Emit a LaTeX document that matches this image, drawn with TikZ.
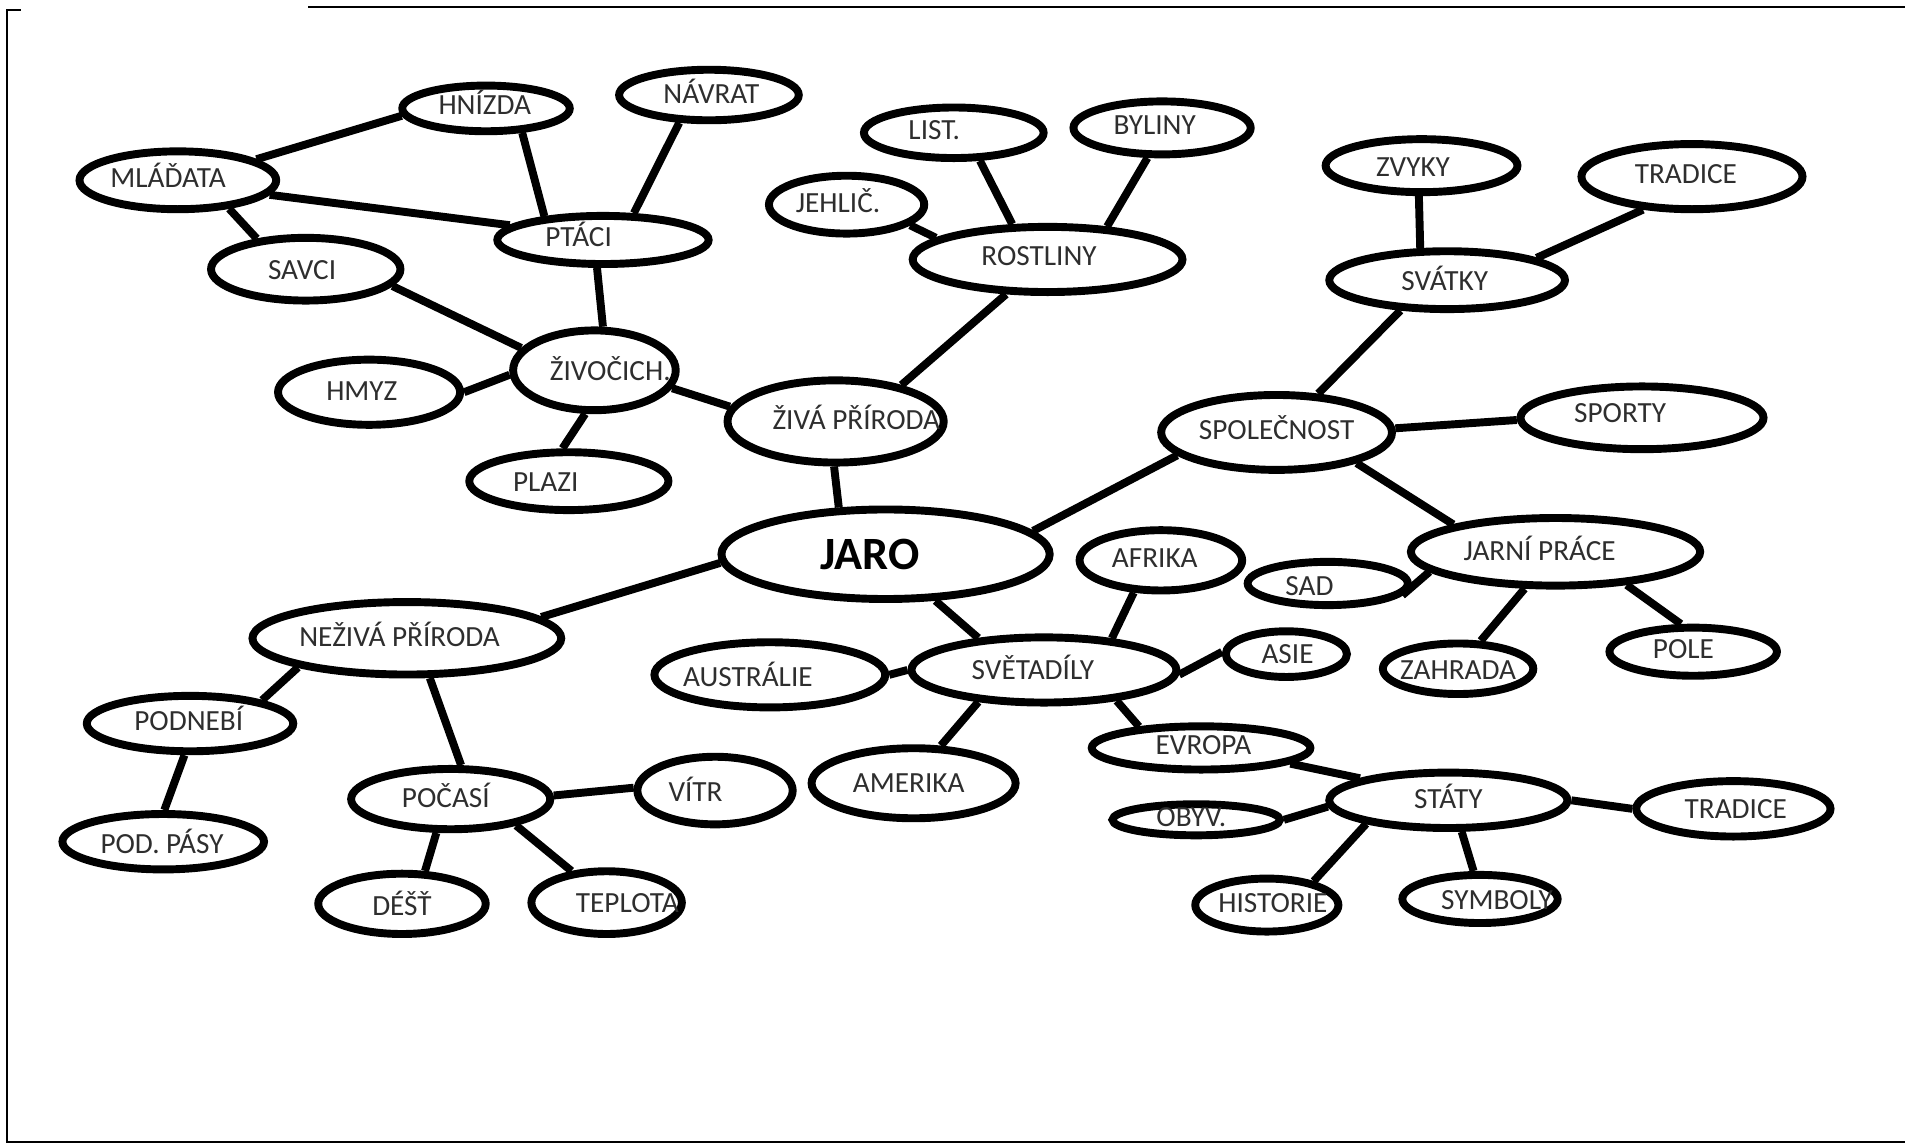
\documentclass[tikz,border=0pt]{standalone}
\usepackage{fontspec}
\setmainfont{Carlito}
\usetikzlibrary{shapes.geometric,backgrounds}
\definecolor{txt}{HTML}{2E2E2E}
\tikzset{
  bub/.style={draw=black, line width=6.5pt, ellipse, inner sep=0pt, fill=white},
  lbl/.style={inner sep=0pt, text=txt, font=\fontsize{24}{28}\selectfont, text height=15.5pt, text depth=0pt},
  big/.style={inner sep=0pt, text=black, font=\fontsize{38}{44}\selectfont\bfseries, text height=24.5pt, text depth=0pt},
  con/.style={line width=6.5pt, line cap=butt},
  frame/.style={line width=1.6pt}
}
\begin{document}
\begin{tikzpicture}[x=1pt,y=-1pt]
\useasboundingbox (0,0) rectangle (1568,939);
\draw[frame] (17,8) -- (5.5,8) -- (5.5,937.5) -- (1564,937.5);
\draw[frame] (253,5.5) -- (1564,5.5);

% bubbles
\node[bub, minimum width=161.5pt, minimum height=47.5pt] (mla) at (146,148) {};
\node[bub, minimum width=137.5pt, minimum height=37.5pt] (hni) at (399,89) {};
\node[bub, minimum width=147.5pt, minimum height=41.5pt] (nav) at (582,78) {};
\node[bub, minimum width=173.5pt, minimum height=39.5pt] (pta) at (495,197) {};
\node[bub, minimum width=155.5pt, minimum height=51.5pt] (sav) at (251,221) {};
\node[bub, minimum width=133.5pt, minimum height=65.5pt] (ziv) at (488,304) {};
\node[bub, minimum width=149.5pt, minimum height=53.5pt] (hmy) at (303,322) {};
\node[bub, minimum width=163.5pt, minimum height=47.5pt] (pla) at (467,395) {};
\node[bub, minimum width=177.5pt, minimum height=67.5pt] (zpr) at (686,346) {};
\node[bub, minimum width=127.5pt, minimum height=47.5pt] (jeh) at (695,168) {};
\node[bub, minimum width=147.5pt, minimum height=41.5pt] (lis) at (783,109) {};
\node[bub, minimum width=145.5pt, minimum height=43.5pt] (byl) at (954,105) {};
\node[bub, minimum width=221.5pt, minimum height=53.5pt] (ros) at (860,213) {};
\node[bub, minimum width=157.5pt, minimum height=43.5pt] (zvy) at (1167,136) {};
\node[bub, minimum width=181.5pt, minimum height=53.5pt] (tra) at (1389,145) {};
\node[bub, minimum width=193.5pt, minimum height=47.5pt] (sva) at (1188,230) {};
\node[bub, minimum width=189.5pt, minimum height=61.5pt] (spo) at (1048,355) {};
\node[bub, minimum width=199.5pt, minimum height=51.5pt] (spt) at (1348,343) {};
\node[bub, minimum width=269.5pt, minimum height=73.5pt] (jaro) at (727,455) {};
\node[bub, minimum width=133.5pt, minimum height=49.5pt] (afr) at (953,460) {};
\node[bub, minimum width=131.5pt, minimum height=35.5pt] (sad) at (1090,479) {};
\node[bub, minimum width=237.5pt, minimum height=55.5pt] (jpr) at (1277,453) {};
\node[bub, minimum width=253.5pt, minimum height=59.5pt] (nez) at (334,524) {};
\node[bub, minimum width=189.5pt, minimum height=53.5pt] (aus) at (632,554) {};
\node[bub, minimum width=217.5pt, minimum height=53.5pt] (sve) at (857,550) {};
\node[bub, minimum width=99.5pt, minimum height=37.5pt] (asi) at (1056,537) {};
\node[bub, minimum width=123.5pt, minimum height=41.5pt] (zah) at (1197,549) {};
\node[bub, minimum width=137.5pt, minimum height=39.5pt] (pol) at (1390,535) {};
\node[bub, minimum width=169.5pt, minimum height=45.5pt] (pdn) at (156,594) {};
\node[bub, minimum width=163.5pt, minimum height=49.5pt] (poc) at (370,656) {};
\node[bub, minimum width=127.5pt, minimum height=55.5pt] (vit) at (587,649) {};
\node[bub, minimum width=167.5pt, minimum height=57.5pt] (ame) at (750,643) {};
\node[bub, minimum width=179.5pt, minimum height=35.5pt] (evr) at (986,614) {};
\node[bub, minimum width=195.5pt, minimum height=45.5pt] (sta) at (1189,657) {};
\node[bub, minimum width=159.5pt, minimum height=45.5pt] (tr2) at (1423,664) {};
\node[bub, minimum width=137.5pt, minimum height=25.5pt] (oby) at (982,673) {};
\node[bub, minimum width=165.5pt, minimum height=45.5pt] (pas) at (134,691) {};
\node[bub, minimum width=137.5pt, minimum height=49.5pt] (des) at (330,742) {};
\node[bub, minimum width=123.5pt, minimum height=51.5pt] (tep) at (498,741) {};
\node[bub, minimum width=117.5pt, minimum height=43.5pt] (his) at (1040,743) {};
\node[bub, minimum width=127.5pt, minimum height=39.5pt] (sym) at (1215,738) {};

% labels
\node[lbl] (mla-t) at (138,146) {MLÁĎATA};
\node[lbl] (hni-t) at (398,86) {HNÍZDA};
\node[lbl] (nav-t) at (584,77) {NÁVRAT};
\node[lbl] (pta-t) at (475,195) {PTÁCI};
\node[lbl] (sav-t) at (248,222) {SAVCI};
\node[lbl] (ziv-t) at (501,305) {ŽIVOČICH.};
\node[lbl] (hmy-t) at (297,321) {HMYZ};
\node[lbl] (pla-t) at (448,396) {PLAZI};
\node[lbl] (zpr-t) at (703,345) {ŽIVÁ PŘÍRODA};
\node[lbl] (jeh-t) at (688,167) {JEHLIČ.};
\node[lbl] (lis-t) at (767,107) {LIST.};
\node[lbl] (byl-t) at (948,103) {BYLINY};
\node[lbl] (ros-t) at (853,210) {ROSTLINY};
\node[lbl] (zvy-t) at (1160,137) {ZVYKY};
\node[lbl] (tra-t) at (1384,143) {TRADICE};
\node[lbl] (sva-t) at (1186,231) {SVÁTKY};
\node[lbl] (spo-t) at (1048,353) {SPOLEČNOST};
\node[lbl] (spt-t) at (1330,339) {SPORTY};
\node[big] (jaro-t) at (714,455) {JARO};
\node[lbl] (afr-t) at (948,458) {AFRIKA};
\node[lbl] (sad-t) at (1075,481) {SAD};
\node[lbl] (jpr-t) at (1264,452) {JARNÍ PRÁCE};
\node[lbl] (nez-t) at (328,523) {NEŽIVÁ PŘÍRODA};
\node[lbl] (aus-t) at (614,556) {AUSTRÁLIE};
\node[lbl] (sve-t) at (848,550) {SVĚTADÍLY};
\node[lbl] (asi-t) at (1057,537) {ASIE};
\node[lbl] (zah-t) at (1197,550) {ZAHRADA};
\node[lbl] (pol-t) at (1382,533) {POLE};
\node[lbl] (pdn-t) at (155,592) {PODNEBÍ};
\node[lbl] (poc-t) at (366,655) {POČASÍ};
\node[lbl] (vit-t) at (571,650) {VÍTR};
\node[lbl] (ame-t) at (746,643) {AMERIKA};
\node[lbl] (evr-t) at (988,612) {EVROPA};
\node[lbl] (sta-t) at (1189,656) {STÁTY};
\node[lbl] (tr2-t) at (1425,664) {TRADICE};
\node[lbl] (oby-t) at (978,671) {OBYV.};
\node[lbl] (pas-t) at (133,693) {POD. PÁSY};
\node[lbl] (des-t) at (330,744) {DÉŠŤ};
\node[lbl] (tep-t) at (515,741) {TEPLOTA};
\node[lbl] (his-t) at (1045,741) {HISTORIE};
\node[lbl] (sym-t) at (1229,739) {SYMBOLY};

\begin{pgfonlayer}{background}
\draw[con] (mla.15) -- (hni.185);
\draw[con] (mla.-9) -- (pta.171);
\draw[con] (mla.-29) -- (sav.148);
\draw[con] (hni.-34) -- (pta.158);
\draw[con] (nav.223) -- (pta.41);
\draw[con] (pta.-102) -- (ziv.79);
\draw[con] (sav.-11) -- (ziv.163);
\draw[con] (hmy.0) -- (ziv.183);
\draw[con] (pla.101) -- (ziv.-102);
\draw[con] (ziv.-13) -- (zpr.172);
\draw[con] (zpr.29) -- (ros.220);
\draw[con] (zpr.-92) -- (jaro.135);
\draw[con] (jeh.-18) -- (ros.169);
\draw[con] (lis.-47) -- (ros.135);
\draw[con] (byl.-116) -- (ros.29);
\draw[con] (jaro.9) -- (spo.193);
\draw[con] (spo.43) -- (sva.213);
\draw[con] (sva.130) -- (zvy.-95);
\draw[con] (sva.14) -- (tra.214);
\draw[con] (spo.2) -- (spt.181);
\draw[con] (spo.-21) -- (jpr.165);
\draw[con] (jpr.189) -- (sad.-9);
\draw[con] (jpr.-130) -- (zah.51);
\draw[con] (jpr.-25) -- (pol.114);
\draw[con] (jaro.183) -- (nez.9);
\draw[con] (jaro.-43) -- (sve.154);
\draw[con] (sve.25) -- (afr.230);
\draw[con] (sve.-2) -- (asi.178);
\draw[con] (sve.180) -- (aus.0);
\draw[con] (sve.206) -- (ame.54);
\draw[con] (sve.-23) -- (evr.161);
\draw[con] (evr.-10) -- (sta.166);
\draw[con] (sta.183) -- (oby.0);
\draw[con] (sta.0) -- (tr2.180);
\draw[con] (sta.196) -- (his.27);
\draw[con] (sta.-67) -- (sym.103);
\draw[con] (nez.195) -- (pdn.18);
\draw[con] (pdn.-100) -- (pas.88);
\draw[con] (nez.-60) -- (poc.73);
\draw[con] (poc.2) -- (vit.178);
\draw[con] (poc.-113) -- (des.55);
\draw[con] (poc.-22) -- (tep.138);
\end{pgfonlayer}
\end{tikzpicture}
\end{document}
